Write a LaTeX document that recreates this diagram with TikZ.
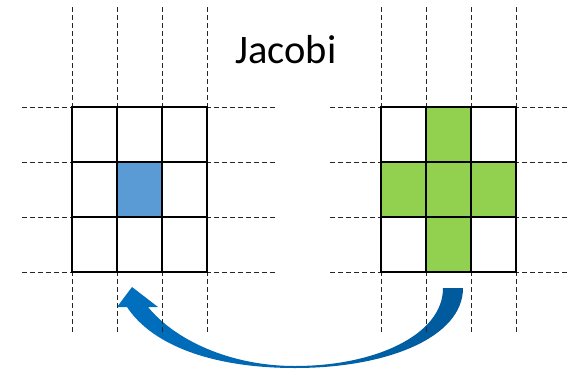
\documentclass[tikz,border=0pt]{standalone}
\usepackage{fontspec}
\setmainfont{Carlito}
\usetikzlibrary{shadings}
\definecolor{cellblue}{HTML}{5B9BD5}
\definecolor{cellgreen}{HTML}{92D050}
\definecolor{arrowlight}{HTML}{0070C0}
\definecolor{arrowdark}{HTML}{005A9C}
\tikzset{
  guide/.style={line width=1pt, dash pattern=on 4.5pt off 3.5pt, black!85},
  cell/.style={draw=black, line width=2.6pt, minimum width=45pt, minimum height=55pt,
               inner sep=0pt, outer sep=0pt, fill=white},
  titletext/.style={font=\fontsize{40.5}{45}\selectfont, anchor=base}
}
\begin{document}
\begin{tikzpicture}[x=1pt, y=-1pt]
  \useasboundingbox (0,0) rectangle (569,372);

  % curved block arrow: from under the right stencil back to the left one
  \shade[left color=arrowlight, right color=arrowdark]
    (463,288) .. controls (463,337) and (388,368) .. (295,368)
              .. controls (212,368) and (152,345) .. (127,307)
    -- (117,307) -- (132,287) -- (158,307) -- (148,307)
              .. controls (175,340) and (230,366) .. (295,366)
              .. controls (375,366) and (443,335) .. (443,288) -- cycle;

  % dashed grid lines of the mesh
  \foreach \x in {72,117,162,207,381,426,471,516}
    \draw[guide] (\x,7) -- (\x,335);
  \foreach \y in {107,162,217,272}{
    \draw[guide] (22,\y) -- (278,\y);
    \draw[guide] (330,\y) -- (569,\y);
  }

  % left 3x3 stencil: single updated point
  \foreach \i in {0,1,2}
    \foreach \j in {0,1,2}
      \node[cell] (L-\i-\j) at ({94.5+45*\i},{134.5+55*\j}) {};
  \node[cell, fill=cellblue] (L-c) at (L-1-1) {};

  % right 3x3 stencil: five-point neighbourhood
  \foreach \i in {0,1,2}
    \foreach \j in {0,1,2}
      \node[cell] (R-\i-\j) at ({403.5+45*\i},{134.5+55*\j}) {};
  \foreach \i/\j in {1/0,0/1,1/1,2/1,1/2}
    \node[cell, fill=cellgreen] (G-\i-\j) at (R-\i-\j) {};

  \node[titletext] (title) at (286,63) {Jacobi};
\end{tikzpicture}
\end{document}
